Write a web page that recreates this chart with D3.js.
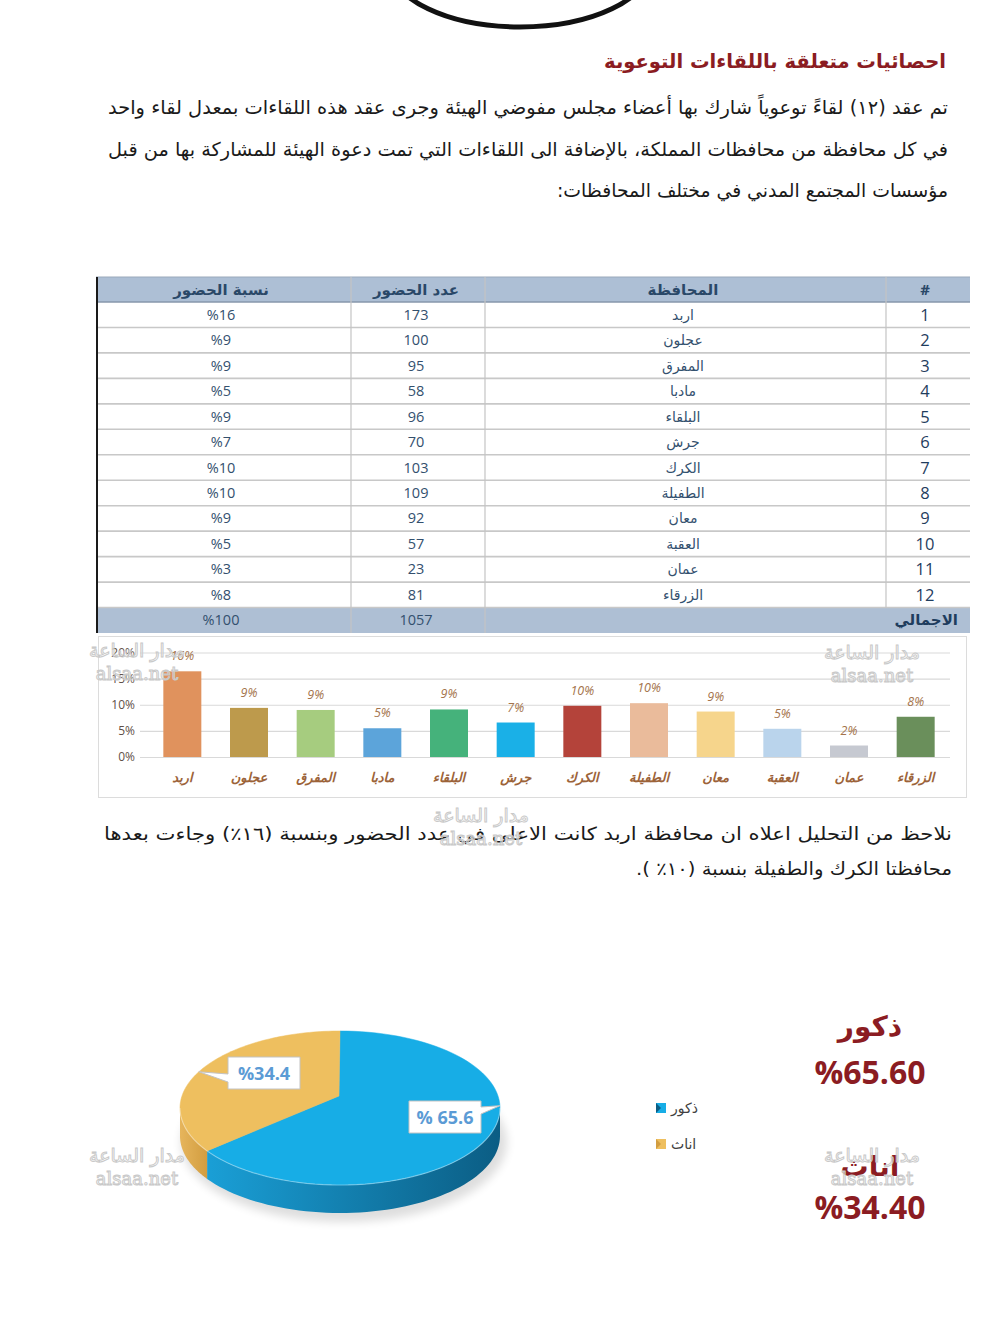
<!DOCTYPE html>
<html><head><meta charset="utf-8">
<script src="https://cdn.jsdelivr.net/npm/d3@7"></script>
<style>body{margin:0;background:#fff}svg{display:block}</style>
</head><body><svg id="c" width="1000" height="1337"></svg>
<script>
// ---------- DATA ----------
const title = "احصائيات متعلقة باللقاءات التوعوية";
const introLines = [
  "تم عقد (١٢) لقاءً توعوياً شارك بها أعضاء مجلس مفوضي الهيئة وجرى عقد هذه اللقاءات بمعدل لقاء واحد",
  "في كل محافظة من محافظات المملكة، بالإضافة الى اللقاءات التي تمت دعوة الهيئة للمشاركة بها من قبل",
  "مؤسسات المجتمع المدني في مختلف المحافظات:"
];
const noteLines = [
  "نلاحظ من التحليل اعلاه ان محافظة اربد كانت الاعلى في عدد الحضور وبنسبة (١٦٪) وجاءت بعدها",
  "محافظتا الكرك والطفيلة بنسبة (١٠٪ )."
];
const tableHeaders = ["نسبة الحضور", "عدد الحضور", "المحافظة", "#"];
const provinces = ["اربد","عجلون","المفرق","مادبا","البلقاء","جرش","الكرك","الطفيلة","معان","العقبة","عمان","الزرقاء"];
const attendance = [173,100,95,58,96,70,103,109,92,57,23,81];
const pctLabels = ["%16","%9","%9","%5","%9","%7","%10","%10","%9","%5","%3","%8"];
const totalRow = {label: "الاجمالي", count: "1057", pct: "%100"};
const barShares = [16.4,9.4,9.0,5.5,9.1,6.6,9.8,10.3,8.7,5.4,2.2,7.7];
const barLabels = ["16%","9%","9%","5%","9%","7%","10%","10%","9%","5%","2%","8%"];
const barColors = ["#e0925d","#bd9a4c","#a6cc7f","#5ca4da","#45b27b","#1ab0e7","#b4433a","#eabb9b","#f6d58c","#bad4ec","#c6c9d1","#6a8f5b"];
const yTicks = [0,5,10,15,20];
const genderLabels = ["ذكور","اناث"];
const genderShares = [65.6,34.4];
const genderBoxLabels = ["% 65.6","%34.4"];
const genderBig = ["%65.60","%34.40"];
const genderTop = ["#17ade6","#eebf5f"];
const genderSide = [["#1a9fd6","#0b5d84"],["#e6b55c","#d29d40"]];
const watermarkAr = "مدار الساعة", watermarkEn = "alsaa.net";

// ---------- SETUP ----------
const svg = d3.select("#c");
const AR = "'DejaVu Sans', sans-serif";
const NUM = "'Open Sans', 'DejaVu Sans', sans-serif";
const RED = "#8b1c22";

// top ellipse fragment
svg.append("ellipse").attr("cx",520).attr("cy",-35).attr("rx",130).attr("ry",62)
  .attr("fill","none").attr("stroke","#111").attr("stroke-width",5);

// title (font size fitted to the reference width)
const tt = svg.append("text").attr("x",946).attr("y",68).attr("direction","rtl").attr("text-anchor","start")
  .attr("font-family",AR).attr("font-weight","bold").attr("font-size",23).attr("fill",RED).text(title);
const tw = tt.node().getComputedTextLength();
if (tw > 0) tt.attr("font-size", Math.min(26, 23*342/tw));

// intro paragraph
const introW = [840,840,391];
svg.selectAll("text.intro").data(introLines).join("text").attr("class","intro")
  .attr("x",948).attr("y",(d,i)=>114+i*41.5).attr("direction","rtl").attr("text-anchor","start")
  .attr("font-family",AR).attr("font-size",19).attr("fill","#1a1a1a")
  .attr("textLength",(d,i)=>introW[i]).attr("lengthAdjust","spacingAndGlyphs").text(d=>d);

// ---------- TABLE ----------
const colCenters = [221,416,683,925];
const hdrTop = 277, hdrBot = 302;
const yRow = d3.scaleBand().domain(d3.range(13)).range([302,633]);
const tbl = svg.append("g");
tbl.append("rect").attr("x",96).attr("y",hdrTop).attr("width",874).attr("height",hdrBot-hdrTop).attr("fill","#adbfd5");
tbl.append("rect").attr("x",96).attr("y",yRow(12)).attr("width",874).attr("height",yRow.bandwidth()).attr("fill","#aebfd4");
tbl.selectAll("line.h").data(d3.range(1,13)).join("line").attr("class","h")
  .attr("x1",96).attr("x2",970).attr("y1",d=>yRow(d)).attr("y2",d=>yRow(d))
  .attr("stroke","#c8c8c8").attr("stroke-width",1.6);
tbl.append("line").attr("x1",96).attr("x2",970).attr("y1",hdrBot).attr("y2",hdrBot).attr("stroke","#8797ab").attr("stroke-width",1.5);
tbl.append("line").attr("x1",96).attr("x2",970).attr("y1",hdrTop).attr("y2",hdrTop).attr("stroke","#9aa9bb").attr("stroke-width",1);
[351,485].forEach(x=>tbl.append("line").attr("x1",x).attr("x2",x).attr("y1",hdrTop).attr("y2",633).attr("stroke","#c4c4c4").attr("stroke-width",1.2));
tbl.append("line").attr("x1",886).attr("x2",886).attr("y1",hdrTop).attr("y2",yRow(12)).attr("stroke","#c4c4c4").attr("stroke-width",1.2);
tbl.append("line").attr("x1",97).attr("x2",97).attr("y1",hdrTop).attr("y2",633).attr("stroke","#1a1a1a").attr("stroke-width",2);

tbl.selectAll("text.hd").data(tableHeaders).join("text").attr("class","hd")
  .attr("x",(d,i)=>colCenters[i]).attr("y",295).attr("text-anchor","middle")
  .attr("font-family",(d,i)=>i===3?NUM:AR).attr("font-size",(d,i)=>i===3?15:15).attr("font-weight","bold").attr("fill","#2a4868").text(d=>d);

const rows = provinces.map((p,i)=>({idx:String(i+1), name:p, count:String(attendance[i]), pct:pctLabels[i]}));
const rg = tbl.selectAll("g.row").data(rows).join("g").attr("class","row")
  .attr("transform",(d,i)=>`translate(0,${yRow(i)+yRow.bandwidth()/2})`);
rg.append("text").attr("x",colCenters[0]).attr("y",5).attr("text-anchor","middle").attr("font-family",NUM).attr("font-size",14.5).attr("fill","#33506e").text(d=>d.pct);
rg.append("text").attr("x",colCenters[1]).attr("y",5).attr("text-anchor","middle").attr("font-family",NUM).attr("font-size",14.5).attr("fill","#33506e").text(d=>d.count);
rg.append("text").attr("x",colCenters[2]).attr("y",5).attr("text-anchor","middle").attr("font-family",AR).attr("font-size",14).attr("fill","#33506e").text(d=>d.name);
rg.append("text").attr("x",colCenters[3]).attr("y",6).attr("text-anchor","middle").attr("font-family",NUM).attr("font-size",16.5).attr("fill","#1f3d5e").text(d=>d.idx);
const ty = yRow(12)+yRow.bandwidth()/2+5;
tbl.append("text").attr("x",colCenters[0]).attr("y",ty).attr("text-anchor","middle").attr("font-family",NUM).attr("font-size",14.5).attr("fill","#33506e").text(totalRow.pct);
tbl.append("text").attr("x",colCenters[1]).attr("y",ty).attr("text-anchor","middle").attr("font-family",NUM).attr("font-size",14.5).attr("fill","#33506e").text(totalRow.count);
tbl.append("text").attr("x",958).attr("y",ty).attr("direction","rtl").attr("text-anchor","start").attr("font-family",AR).attr("font-size",15).attr("font-weight","bold").attr("fill","#1f3d5e").text(totalRow.label);

// ---------- BAR CHART ----------
svg.append("rect").attr("x",98.5).attr("y",636.5).attr("width",868).attr("height",161).attr("fill","#fff").attr("stroke","#dcdcdc");
const x = d3.scaleBand().domain(provinces).range([149,949]).paddingInner(0.43).paddingOuter(0.215);
const y = d3.scaleLinear().domain([0,20]).range([757,652.5]);
const bc = svg.append("g");
bc.append("g").call(d3.axisLeft(y).tickValues(yTicks).tickSize(-810).tickFormat(d=>d+"%"))
  .attr("transform","translate(140,0)")
  .call(g=>{g.select(".domain").remove();
    g.selectAll(".tick line").attr("stroke","#d9d9d9").attr("stroke-width",1.2);
    g.selectAll(".tick text").attr("x",-5).attr("font-family",NUM).attr("font-size",12).attr("fill","#5f5047");});
bc.selectAll("rect.bar").data(barShares).join("rect").attr("class","bar")
  .attr("x",(d,i)=>x(provinces[i])).attr("width",x.bandwidth())
  .attr("y",d=>y(d)).attr("height",d=>y(0)-y(d)).attr("fill",(d,i)=>barColors[i]);
bc.selectAll("text.bl").data(barShares).join("text").attr("class","bl")
  .attr("x",(d,i)=>x(provinces[i])+x.bandwidth()/2).attr("y",d=>y(d)-11)
  .attr("text-anchor","middle").attr("font-family",NUM).attr("font-style","italic").attr("font-size",12.5)
  .attr("fill","#a4744c").text((d,i)=>barLabels[i]);
bc.selectAll("text.xl").data(provinces).join("text").attr("class","xl")
  .attr("x",d=>x(d)+x.bandwidth()/2).attr("y",782).attr("text-anchor","middle")
  .attr("font-family",AR).attr("font-style","italic").attr("font-weight","bold").attr("font-size",13)
  .attr("fill","#9c6339").text(d=>d);

// note paragraph
const noteW = [848,316];
svg.selectAll("text.note").data(noteLines).join("text").attr("class","note")
  .attr("x",952).attr("y",(d,i)=>840+i*35).attr("direction","rtl").attr("text-anchor","start")
  .attr("font-family",AR).attr("font-size",18).attr("fill","#1a1a1a")
  .attr("textLength",(d,i)=>noteW[i]).attr("lengthAdjust","spacingAndGlyphs").text(d=>d);

// ---------- 3D PIE ----------
const defs = svg.append("defs");
defs.append("filter").attr("id","blur").attr("x","-20%").attr("y","-20%").attr("width","140%").attr("height","140%")
  .append("feGaussianBlur").attr("stdDeviation",5);
genderSide.forEach((c,i)=>{
  const g = defs.append("linearGradient").attr("id","side"+i).attr("x1","0").attr("x2","1").attr("y1","0").attr("y2","0");
  g.append("stop").attr("offset","0%").attr("stop-color",c[0]);
  g.append("stop").attr("offset","100%").attr("stop-color",c[1]);
});
const cx = 340, cy = 1108, rx = 160, ry = 77, depth = 28;
const apex = [339, 1096];
const rim = (a, dy=0) => [cx + rx*Math.sin(a), cy - ry*Math.cos(a) + dy];
const arcs = d3.pie().sort(null).value(d=>d)(genderShares);
const pg = svg.append("g");
pg.append("ellipse").attr("cx",cx+4).attr("cy",cy+depth+6).attr("rx",rx+3).attr("ry",ry+3)
  .attr("fill","#000").attr("opacity",0.13).attr("filter","url(#blur)");
const line = d3.line();
arcs.forEach((a,i)=>{
  const s = Math.max(a.startAngle, Math.PI/2), e = Math.min(a.endAngle, 3*Math.PI/2);
  if (e <= s) return;
  const n = 60, top = [], bot = [];
  for (let k=0;k<=n;k++){ const t = s + (e-s)*k/n; top.push(rim(t)); bot.push(rim(t,depth)); }
  pg.append("path").attr("d", line(top.concat(bot.reverse()))+"Z").attr("fill",`url(#side${i})`);
});
arcs.forEach((a,i)=>{
  const n = 90, pts = [apex];
  for (let k=0;k<=n;k++){ const t = a.startAngle + (a.endAngle-a.startAngle)*k/n; pts.push(rim(t)); }
  pg.append("path").attr("d", line(pts)+"Z").attr("fill",genderTop[i]).attr("stroke",genderTop[i]).attr("stroke-width",0.5);
});
// thin rim highlight
pg.append("path").attr("d", line(d3.range(0,61).map(k=>rim(Math.PI/2 + Math.PI*k/60))))
  .attr("fill","none").attr("stroke","#ffffff").attr("stroke-opacity",0.35).attr("stroke-width",1.2);
// callouts
const boxes = [{cx:445, cy:1117, side:"right", ang:Math.PI/2-0.03},{cx:264, cy:1073, side:"left", ang:(arcs[1].startAngle+arcs[1].endAngle)/2}];
boxes.forEach((b,i)=>{
  const w = 72, h = 32, x0 = b.cx-w/2, x1 = b.cx+w/2, y0 = b.cy-h/2, y1 = b.cy+h/2;
  const [tx,ty2] = rim(b.ang);
  const d = b.side==="left"
    ? `M${x0},${y0}H${x1}V${y1}H${x0}V${b.cy+9}L${tx},${ty2}L${x0},${b.cy+1}Z`
    : `M${x0},${y0}H${x1}V${b.cy-10}L${tx},${ty2}L${x1},${b.cy-3}V${y1}H${x0}Z`;
  pg.append("path").attr("d",d).attr("fill","#fff").attr("stroke","#c3c3c3").attr("stroke-width",1);
  pg.append("text").attr("x",b.cx).attr("y",b.cy+7).attr("text-anchor","middle").attr("font-family",NUM)
    .attr("font-weight","bold").attr("font-size",18).attr("fill","#5b9bd5").text(genderBoxLabels[i]);
});
// legend
const lg = svg.append("g");
genderLabels.forEach((l,i)=>{
  lg.append("rect").attr("x",656).attr("y",1103+i*36).attr("width",10).attr("height",10).attr("fill",genderTop[i]);
  lg.append("path").attr("d",`M656,${1103+i*36}L661,${1108+i*36}L656,${1113+i*36}Z`).attr("fill",genderSide[i][1]);
  lg.append("text").attr("x",671).attr("y",1113+i*36).attr("font-family",AR).attr("font-size",14).attr("fill","#404040").text(l);
});
// big summary
genderLabels.forEach((l,i)=>{
  svg.append("text").attr("x",870).attr("y",1036+i*140).attr("text-anchor","middle").attr("font-family",AR)
    .attr("font-weight","bold").attr("font-size",28).attr("fill",RED).text(l);
  svg.append("text").attr("x",870).attr("y",1084+i*135).attr("text-anchor","middle").attr("font-family",NUM)
    .attr("font-weight","bold").attr("font-size",32).attr("fill",RED).text(genderBig[i]);
});

// watermarks (present in the reference image)
const wm = [[137,655],[872,657],[481,820],[137,1160],[872,1160]];
const wg = svg.append("g").attr("pointer-events","none");
wm.forEach(([wx,wy])=>{
  wg.append("text").attr("x",wx).attr("y",wy+2).attr("text-anchor","middle").attr("font-family",AR).attr("font-size",19)
    .attr("fill","#fff").attr("fill-opacity",0.4).attr("stroke","#c9c9c9").attr("stroke-width",1).text(watermarkAr);
  wg.append("text").attr("x",wx).attr("y",wy+25).attr("text-anchor","middle").attr("font-family","'DejaVu Serif', serif").attr("font-size",18)
    .attr("fill","#fff").attr("fill-opacity",0.4).attr("stroke","#c9c9c9").attr("stroke-width",1).text(watermarkEn);
});
</script></body></html>
